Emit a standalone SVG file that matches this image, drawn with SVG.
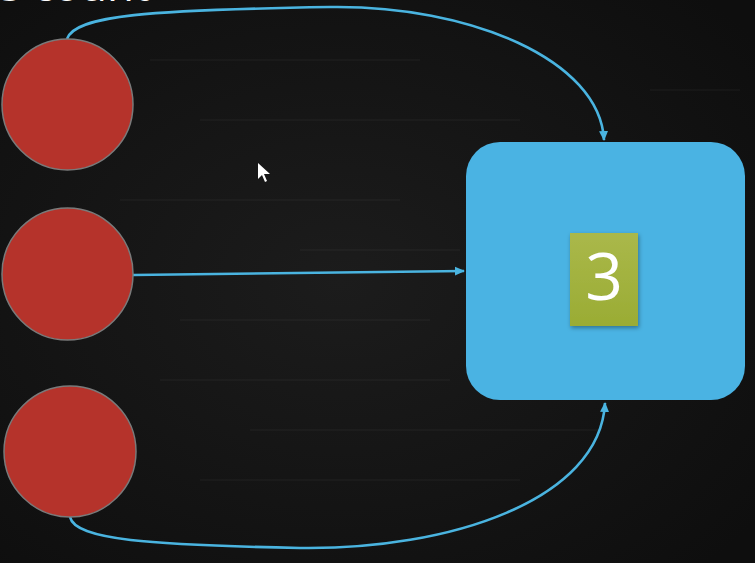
<svg xmlns="http://www.w3.org/2000/svg" width="755" height="563" viewBox="0 0 755 563">
<defs>
<radialGradient id="bg" cx="0.45" cy="0.5" r="0.7">
<stop offset="0" stop-color="#1c1c1c"/>
<stop offset="1" stop-color="#0e0e0e"/>
</radialGradient>
<linearGradient id="green" x1="0" y1="0" x2="0" y2="1">
<stop offset="0" stop-color="#aab84a"/>
<stop offset="1" stop-color="#9aac34"/>
</linearGradient>
<filter id="sh" x="-20%" y="-20%" width="150%" height="150%">
<feDropShadow dx="1" dy="2" stdDeviation="2" flood-color="#000" flood-opacity="0.35"/>
</filter>
<marker id="arr" markerWidth="12" markerHeight="12" refX="9" refY="6" orient="auto" markerUnits="userSpaceOnUse">
<path d="M0,1.5 L10,6 L0,10.5 Z" fill="#4ab4e0"/>
</marker>
<style>
.circ{fill:#b5332b;stroke:#7a7a7a;stroke-width:1.5}
.conn{fill:none;stroke:#4ab4e0;stroke-width:2.6;marker-end:url(#arr)}
.lbl{font-family:"Open Sans","Liberation Sans",sans-serif;fill:#fff}
</style>
</defs>
<rect width="755" height="563" fill="url(#bg)"/>
<g opacity="0.03" stroke="#fff" stroke-width="1.5">
<path d="M150 60 H420 M200 120 H520 M120 200 H400 M180 320 H430 M160 380 H450 M250 430 H600 M200 480 H520 M650 90 H740 M300 250 H460"/>
</g>
<text class="lbl" x="0" y="1" font-size="44">s count</text>
<g id="connectors">
<path class="conn" d="M67,39 C75,15 150,10 330,7 C470,5 600,60 604,140"/>
<path class="conn" d="M133,275 L464,271"/>
<path class="conn" d="M70,517 C75,540 150,545 300,548 C450,550 600,500 605,403"/>
</g>
<g id="node-top"><ellipse class="circ" cx="67.5" cy="104.5" rx="65.5" ry="65.5"/></g>
<g id="node-middle"><ellipse class="circ" cx="67.5" cy="274" rx="65.5" ry="66"/></g>
<g id="node-bottom"><ellipse class="circ" cx="70" cy="451.5" rx="66" ry="65.5"/></g>
<g id="node-box">
<rect x="466" y="142" width="279" height="258" rx="34" fill="#4ab3e3"/>
<rect x="570" y="233" width="68" height="93" fill="url(#green)" filter="url(#sh)"/>
<text class="lbl" x="604" y="300" font-size="66" text-anchor="middle">3</text>
</g>
<path d="M258,163 L258,179 L262,175 L265,182 L267,181 L264,174 L270,174 Z" fill="#fff"/>
</svg>
